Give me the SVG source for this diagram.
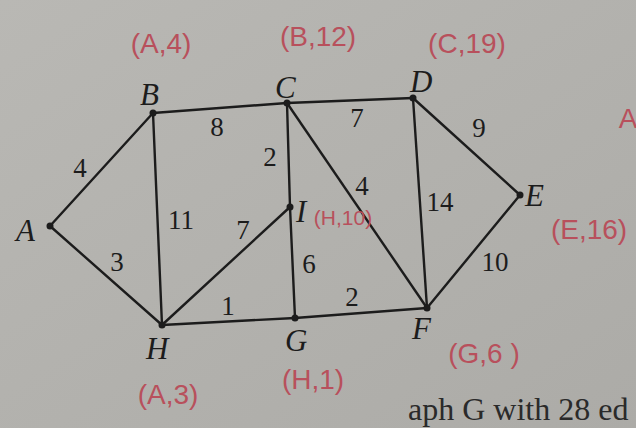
<svg xmlns="http://www.w3.org/2000/svg" width="636" height="428" viewBox="0 0 636 428">
<defs>
<linearGradient id="paper" x1="0" y1="0" x2="1" y2="1">
<stop offset="0" stop-color="#b9b8b4"/>
<stop offset="1" stop-color="#acaba7"/>
</linearGradient>
</defs>
<style>
.edge{stroke:#1c1c1c;stroke-width:2.4;fill:none;stroke-linecap:round}
.dot{fill:#1c1c1c}
.lbl{font-family:"Liberation Serif",serif;font-style:italic;font-size:31px;fill:#1c1c1c}
.w{font-family:"Liberation Serif",serif;font-size:27px;fill:#1c1c1c;text-anchor:middle}
.ann{font-family:"Liberation Sans",sans-serif;font-size:28px;fill:#b8505c;text-anchor:middle}
.txt{font-family:"Liberation Serif",serif;font-size:32px;fill:#2a2a2a}
</style>
<rect width="636" height="428" fill="url(#paper)"/>
<g id="connectors">
<line class="edge" x1="50" y1="226" x2="153" y2="113"/>
<line class="edge" x1="50" y1="226" x2="162" y2="325"/>
<line class="edge" x1="153" y1="113" x2="287" y2="103"/>
<line class="edge" x1="153" y1="113" x2="162" y2="325"/>
<line class="edge" x1="287" y1="103" x2="413" y2="98"/>
<line class="edge" x1="287" y1="103" x2="290" y2="207"/>
<line class="edge" x1="287" y1="103" x2="427" y2="308"/>
<line class="edge" x1="413" y1="98" x2="520" y2="195"/>
<line class="edge" x1="413" y1="98" x2="427" y2="308"/>
<line class="edge" x1="520" y1="195" x2="427" y2="308"/>
<line class="edge" x1="290" y1="207" x2="162" y2="325"/>
<line class="edge" x1="290" y1="207" x2="295" y2="318"/>
<line class="edge" x1="162" y1="325" x2="295" y2="318"/>
<line class="edge" x1="295" y1="318" x2="427" y2="308"/>
<text class="w" x="80" y="177">4</text>
<text class="w" x="117" y="271">3</text>
<text class="w" x="217" y="136">8</text>
<text class="w" x="181" y="229">11</text>
<text class="w" x="357" y="127">7</text>
<text class="w" x="270" y="166">2</text>
<text class="w" x="362" y="195">4</text>
<text class="w" x="479" y="137">9</text>
<text class="w" x="440" y="211">14</text>
<text class="w" x="495" y="271">10</text>
<text class="w" x="243" y="239">7</text>
<text class="w" x="309" y="273">6</text>
<text class="w" x="228" y="315">1</text>
<text class="w" x="352" y="306">2</text>
</g>
<g id="node-A"><circle class="dot" cx="50" cy="226" r="3.5"/><text class="lbl" x="16" y="241">A</text></g>
<g id="node-B"><circle class="dot" cx="153" cy="113" r="3.5"/><text class="lbl" x="140" y="105">B</text><text class="ann" x="161" y="53">(A,4)</text></g>
<g id="node-C"><circle class="dot" cx="287" cy="103" r="3.5"/><text class="lbl" x="275" y="98">C</text><text class="ann" x="318" y="46">(B,12)</text></g>
<g id="node-D"><circle class="dot" cx="413" cy="98" r="3.5"/><text class="lbl" x="410" y="92">D</text><text class="ann" x="467" y="53">(C,19)</text></g>
<g id="node-E"><circle class="dot" cx="520" cy="195" r="3.5"/><text class="lbl" x="525" y="206">E</text><text class="ann" x="589" y="239">(E,16)</text></g>
<g id="node-I"><circle class="dot" cx="290" cy="207" r="3.5"/><text class="lbl" x="296" y="222">I</text><text class="ann" x="343" y="225" style="font-size:21px">(H,10)</text></g>
<g id="node-H"><circle class="dot" cx="162" cy="325" r="3.5"/><text class="lbl" x="146" y="359">H</text><text class="ann" x="168" y="404">(A,3)</text></g>
<g id="node-G"><circle class="dot" cx="295" cy="318" r="3.5"/><text class="lbl" x="285" y="351">G</text><text class="ann" x="313" y="389">(H,1)</text></g>
<g id="node-F"><circle class="dot" cx="427" cy="308" r="3.5"/><text class="lbl" x="412" y="339">F</text><text class="ann" x="484" y="363">(G,6  )</text></g>
<text class="ann" x="628" y="128">A</text>
<text class="txt" x="408" y="420">aph G with 28 ed</text>
</svg>
